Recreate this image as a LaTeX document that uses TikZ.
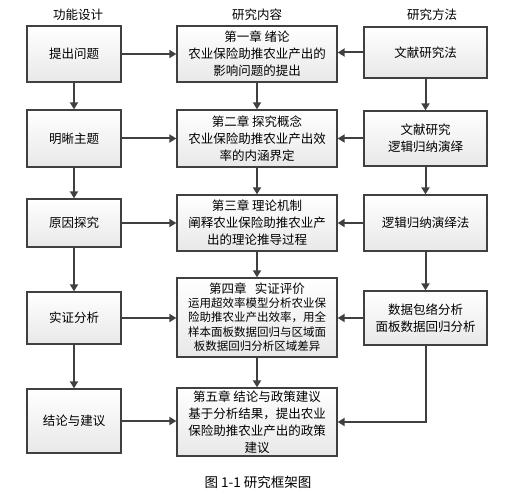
\documentclass[tikz,border=0pt]{standalone}
\usepackage{fontspec}
\setmainfont{Noto Sans CJK SC}
\usetikzlibrary{positioning, arrows.meta, shadows}

\definecolor{xian}{HTML}{404040}
\tikzset{
	gbox/.style={draw=xian, line width=1.3bp, top color=white, bottom color=gray!18,
		drop shadow={shadow xshift=1.2bp, shadow yshift=-1.2bp, fill=gray!40, opacity=.6},
		align=center, inner sep=0pt, font=\fontsize{12.5bp}{17bp}\selectfont},
	jiantou/.style={draw=xian, line width=2bp, -{Triangle[length=7bp,width=8bp]}},
	biaoti/.style={font=\fontsize{12.5bp}{15bp}\selectfont}
}
\newcommand{\xiaozi}{\fontsize{11.5bp}{14.5bp}\selectfont}

\begin{document}
\begin{tikzpicture}[x=1bp, y=-1bp]
	\useasboundingbox (0,0) rectangle (517,490);
	% headings
	\node[biaoti] (h1) at (78,15) {功能设计};
	\node[biaoti] (h2) at (257,15) {研究内容};
	\node[biaoti] (h3) at (432,15) {研究方法};
	% left column
	\node[gbox, minimum width=94bp, minimum height=56bp] (L1) at (74,54) {提出问题};
	\node[gbox, minimum width=94bp, minimum height=57bp] (L2) at (74,138.5) {明晰主题};
	\node[gbox, minimum width=94bp, minimum height=48bp] (L3) at (74,223) {原因探究};
	\node[gbox, minimum width=94bp, minimum height=52bp] (L4) at (74,318) {实证分析};
	\node[gbox, minimum width=94bp, minimum height=64bp] (L5) at (74,421) {结论与建议};
	% middle column
	\node[gbox, minimum width=160bp, minimum height=56bp] (M1) at (257,54)
		{第一章 绪论\\农业保险助推农业产出的\\影响问题的提出};
	\node[gbox, minimum width=160bp, minimum height=57bp] (M2) at (257,138.5)
		{第二章 探究概念\\农业保险助推农业产出效\\率的内涵界定};
	\node[gbox, minimum width=160bp, minimum height=56bp] (M3) at (257,223)
		{第三章 理论机制\\阐释农业保险助推农业产\\出的理论推导过程};
	\node[gbox, minimum width=160bp, minimum height=79bp, text width=158bp] (M4) at (257,317.5)
		{第四章\ \ 实证评价\\[-1bp]
		\xiaozi 运用超效率模型分析农业保\\险助推农业产出效率，用全\\样本面板数据回归与区域面\\板数据回归分析区域差异\par};
	\node[gbox, minimum width=160bp, minimum height=68bp] (M5) at (257,422)
		{第五章 结论与政策建议\\基于分析结果，提出农业\\保险助推农业产出的政策\\建议};
	% right column
	\node[gbox, minimum width=123bp, minimum height=51bp] (R1) at (425.5,52.5) {文献研究法};
	\node[gbox, minimum width=123bp, minimum height=55bp] (R2) at (425.5,138.5) {文献研究\\逻辑归纳演绎};
	\node[gbox, minimum width=123bp, minimum height=56bp] (R3) at (425.5,223) {逻辑归纳演绎法};
	\node[gbox, minimum width=123bp, minimum height=54bp] (R4) at (425.5,318) {数据包络分析\\面板数据回归分析};
	% arrows
	\foreach \a/\b in {1/2, 2/3, 3/4, 4/5} {
		\draw[jiantou] (L\a.south) -- (L\b.north);
		\draw[jiantou] (M\a.south) -- (M\b.north);
	}
	\foreach \a/\b in {1/2, 2/3, 3/4}
		\draw[jiantou] (R\a.south) -- (R\b.north);
	\foreach \r in {1,...,5}
		\draw[jiantou] (L\r.east) -- (L\r.east -| M\r.west);
	\foreach \r in {1,...,4}
		\draw[jiantou] (R\r.west) -- (R\r.west -| M\r.east);
	\draw[jiantou] (R4.south) |- (M5.east);
	\node[font=\fontsize{13.5bp}{15bp}\selectfont] (tu) at (258,482) {图\ 1-1\ 研究框架图};
\end{tikzpicture}
\end{document}
